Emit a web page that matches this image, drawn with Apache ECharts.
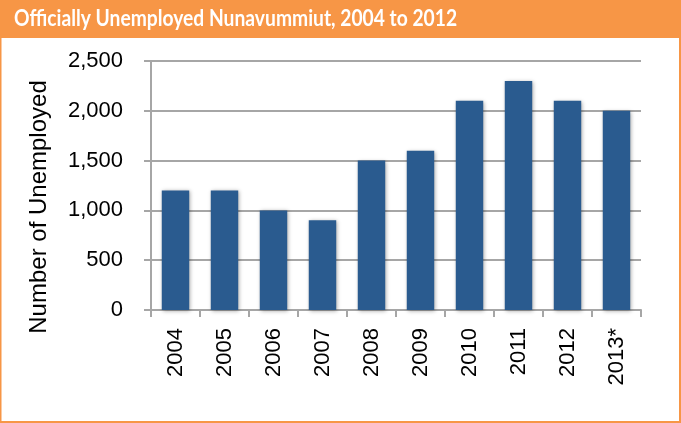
<!DOCTYPE html>
<html>
<head>
<meta charset="utf-8">
<script src="https://cdn.jsdelivr.net/npm/echarts@6/dist/echarts.min.js"></script>
<style>
  html, body { margin: 0; padding: 0; background: #fff; }
  #chart { width: 681px; height: 423px; }
</style>
</head>
<body>
<div id="chart"></div>
<script>
// data
var years = ['2004', '2005', '2006', '2007', '2008', '2009', '2010', '2011', '2012', '2013*'];
var unemployed = [1200, 1200, 1000, 900, 1500, 1600, 2100, 2300, 2100, 2000];
var titleText = 'Officially Unemployed Nunavummiut, 2004 to 2012';
var yName = 'Number of Unemployed';

var orange = '#F79646';
var grey = '#a6a6a6';
var font = '"Liberation Sans", Arial, sans-serif';
var chart = echarts.init(document.getElementById('chart'));

chart.setOption({
  animation: false,
  backgroundColor: '#fff',
  graphic: [
    {
      type: 'rect',
      shape: { x: 0.5, y: 0.5, width: 679.5, height: 421.5 },
      style: { fill: 'none', stroke: orange, lineWidth: 2 },
      z: 0
    },
    {
      type: 'rect',
      shape: { x: 0, y: 0, width: 681, height: 38 },
      style: { fill: orange },
      z: 1
    },
    {
      type: 'text',
      x: 14,
      y: 19,
      scaleX: 0.875,
      style: {
        text: titleText,
        fill: '#fff',
        font: 'bold 22px Lato, "Open Sans", sans-serif',
        verticalAlign: 'middle'
      },
      z: 2
    },
    {
      // y axis title, sits a little below the plot centre like the reference
      type: 'text',
      x: 39,
      y: 207,
      rotation: Math.PI / 2,
      style: {
        text: yName,
        fill: '#000',
        font: '24px ' + font,
        align: 'center',
        verticalAlign: 'middle'
      },
      z: 2
    }
  ],
  grid: { left: 151, right: 40, top: 61, bottom: 113 },
  xAxis: {
    type: 'category',
    data: years,
    axisLine: { lineStyle: { color: grey, width: 2 } },
    axisTick: { show: true, length: 7, lineStyle: { color: grey, width: 2 } },
    axisLabel: {
      rotate: 90,
      color: '#000',
      fontSize: 22,
      fontFamily: font,
      margin: 18
    }
  },
  yAxis: {
    type: 'value',
    min: 0,
    max: 2500,
    interval: 500,
    axisLine: { show: true, lineStyle: { color: grey, width: 2 } },
    axisTick: { show: true, length: 7, lineStyle: { color: grey, width: 2 } },
    axisLabel: {
      color: '#000',
      fontSize: 22,
      fontFamily: font,
      margin: 28,
      formatter: function (v) {
        return v.toLocaleString('en-US');
      }
    },
    splitLine: { lineStyle: { color: grey, width: 2 } }
  },
  series: [
    {
      type: 'bar',
      data: unemployed,
      barWidth: '56%',
      itemStyle: {
        color: '#2A5B8F',
        shadowColor: 'rgba(0,0,0,0.35)',
        shadowBlur: 4,
        shadowOffsetX: 1,
        shadowOffsetY: 1
      }
    }
  ]
});
</script>
</body>
</html>
